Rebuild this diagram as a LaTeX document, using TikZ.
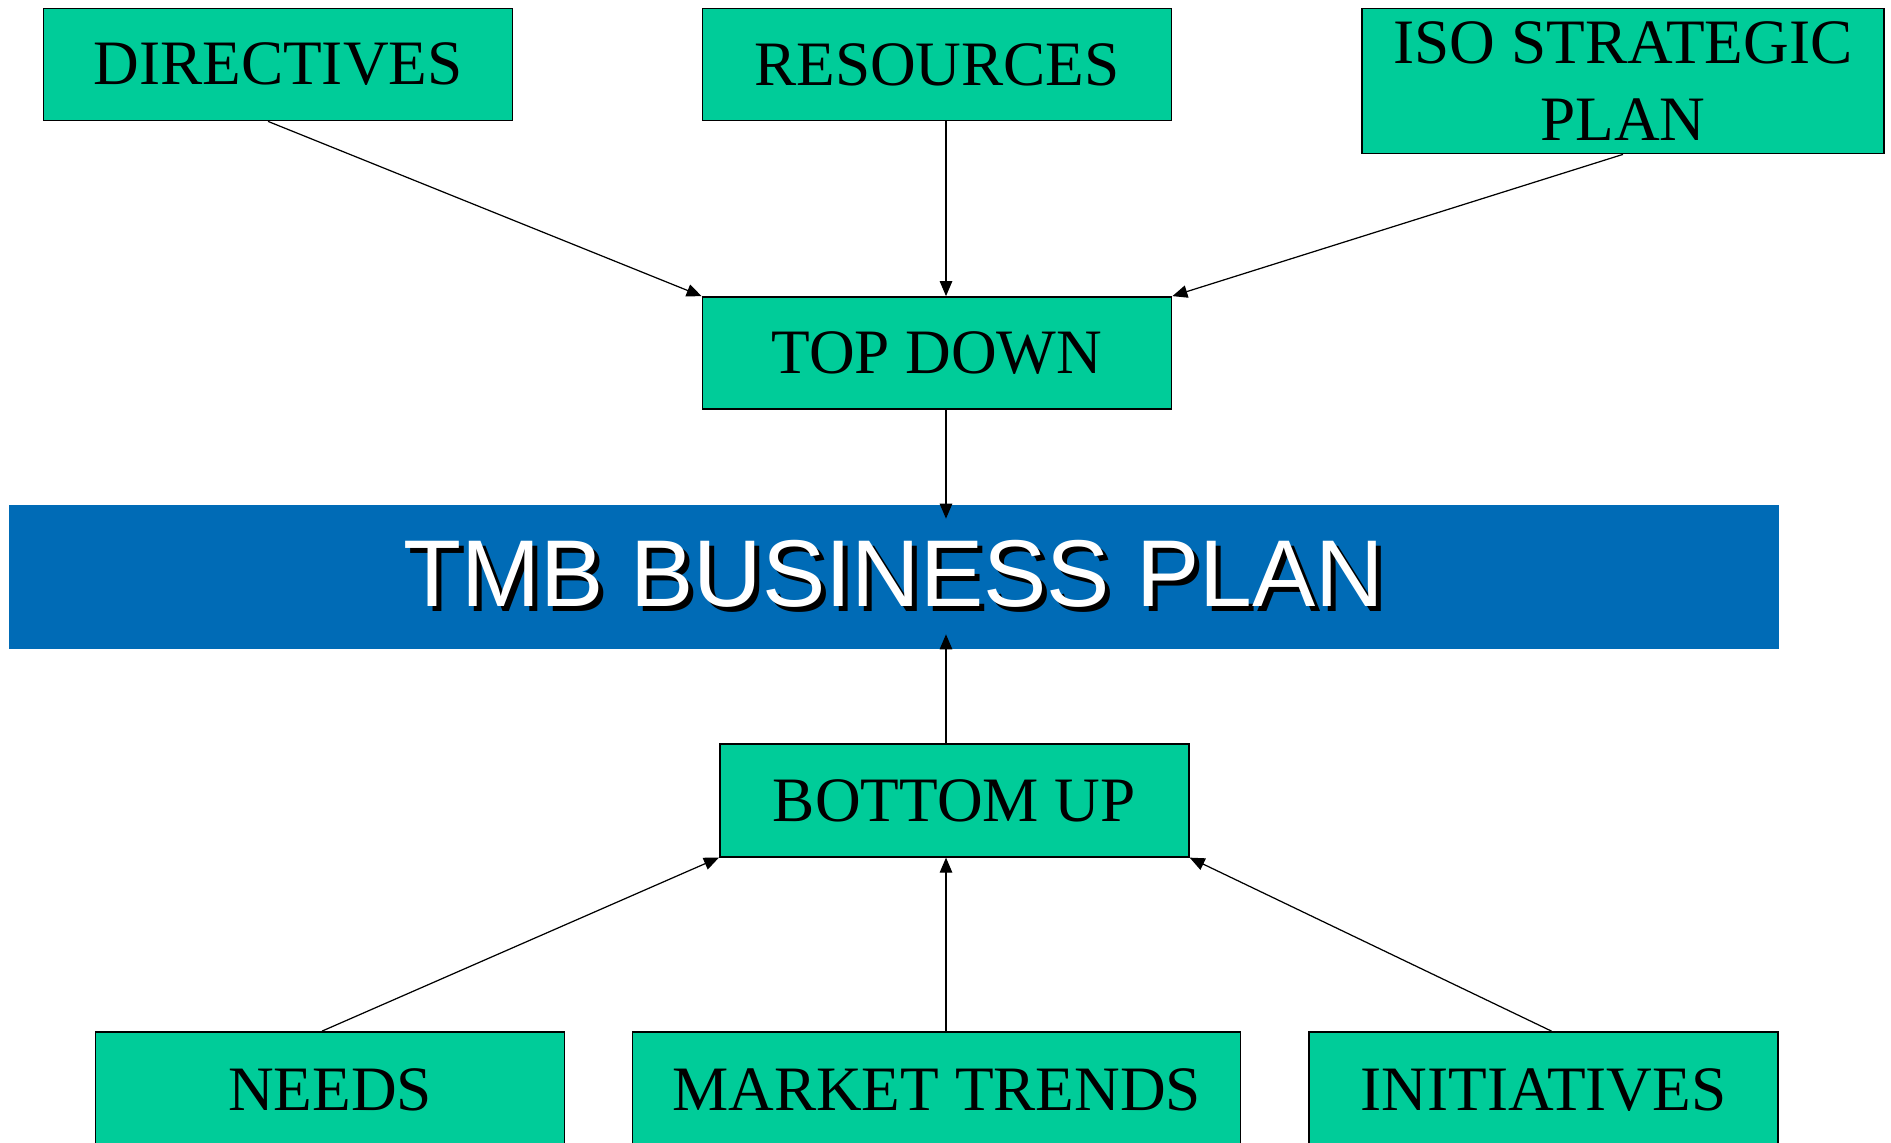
\documentclass[tikz,border=0pt]{standalone}
\usepackage{fontspec}
\setmainfont{Liberation Serif}
\newfontfamily\barfont{Liberation Sans}
\usetikzlibrary{arrows.meta}
\definecolor{boxgreen}{RGB}{0,204,153}
\definecolor{planblue}{RGB}{0,107,182}

\begin{document}
\begin{tikzpicture}[x=0.2mm, y=-0.2mm,
  box/.style={draw, line width=1pt, fill=boxgreen, inner sep=0pt, align=center,
    minimum width=93.8mm, minimum height=22.4mm, font=\fontsize{36}{43.7}\selectfont},
  bartext/.style={inner sep=0pt, font=\barfont\fontsize{54}{60}\selectfont},
  arr/.style={line width=0.7pt, -{Triangle[length=3mm, width=2.5mm]}}]
  \useasboundingbox (0, 0) rectangle (1891, 1143);
  \coordinate (spine) at (946, 0);
  % top row
  \node[box] (dir) at (278, 64.5) {DIRECTIVES};
  \node[box] (res) at (937, 64.5) {RESOURCES};
  \node[box, minimum width=104.4mm, minimum height=29mm] (iso) at (1623, 81) {ISO STRATEGIC\\PLAN};
  \node[box] (top) at (937, 353) {TOP DOWN};
  % plan bar
  \node[fill=planblue, inner sep=0pt, minimum width=354mm, minimum height=28.8mm] (bar) at (893.6, 577) {};
  \node[bartext, text=black] (shadow) at (899, 579) {TMB BUSINESS PLAN};
  \node[bartext, text=white] (title) at (894, 574) {TMB BUSINESS PLAN};
  % bottom row
  \node[box, minimum height=22.5mm] (bot) at (954.3, 800.5) {BOTTOM UP};
  \node[box, minimum height=23.2mm] (needs) at (330, 1090) {NEEDS};
  \node[box, minimum width=121.6mm, minimum height=23.2mm] (market) at (936.6, 1090) {MARKET TRENDS};
  \node[box, minimum height=23.2mm] (init) at (1543.5, 1090) {INITIATIVES};
  % arrows
  \draw[arr] ([xshift=-2mm]dir.south) -- (top.north west);
  \draw[arr] (res.south -| spine) -- (top.north -| spine);
  \draw[arr] (iso.south) -- (top.north east);
  \draw[arr, shorten >=-2.8mm] (top.south -| spine) -- (bar.north -| spine);
  \draw[arr, shorten >=-3mm] (bot.north -| spine) -- (bar.south -| spine);
  \draw[arr] ([xshift=-1.6mm]needs.north) -- (bot.south west);
  \draw[arr] (market.north -| spine) -- (bot.south -| spine);
  \draw[arr] ([xshift=1.6mm]init.north) -- (bot.south east);
\end{tikzpicture}
\end{document}
